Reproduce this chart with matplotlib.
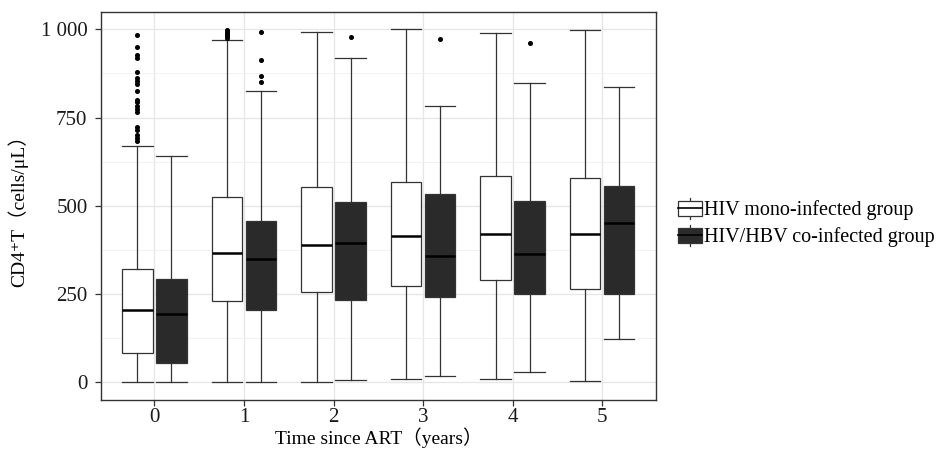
import numpy as np
import matplotlib.pyplot as plt
from matplotlib.patches import Rectangle, Patch
from matplotlib.lines import Line2D
from matplotlib.legend_handler import HandlerBase
from matplotlib.ticker import MultipleLocator

plt.rcParams['font.family'] = ['Liberation Serif', 'DejaVu Serif', 'Noto Sans CJK SC']

years = ['0', '1', '2', '3', '4', '5']
groups = ['HIV mono-infected group', 'HIV/HBV co-infected group']

# mono-infected
mono_lo = [2, 2, 2, 9, 9, 3]
mono_q1 = [84, 230, 255, 273, 290, 265]
mono_med = [206, 367, 390, 416, 421, 421]
mono_q3 = [321, 526, 554, 568, 584, 580]
mono_hi = [670, 969, 993, 1000, 989, 997]
mono_out = [
    [983, 951, 927, 920, 880, 862, 854, 845, 824, 801, 793, 784, 775, 765,
     723, 715, 700, 693, 685],
    [975, 980, 985, 990, 995, 998],
    [], [], [], [],
]

# co-infected
co_lo = [2, 2, 6, 17, 29, 124]
co_q1 = [56, 205, 233, 242, 250, 250]
co_med = [193, 350, 395, 357, 364, 452]
co_q3 = [293, 456, 510, 535, 513, 555]
co_hi = [642, 825, 918, 783, 848, 837]
co_out = [
    [],
    [992, 913, 868, 850],
    [979], [974], [961], [],
]

edge = '#333333'
dark = '#2a2a2a'


def stats(lo, q1, med, q3, hi, out):
    return [dict(whislo=lo[i], q1=q1[i], med=med[i], q3=q3[i], whishi=hi[i],
                 fliers=out[i]) for i in range(len(lo))]


class BoxKey(HandlerBase):
    def create_artists(self, legend, orig_handle, xdescent, ydescent,
                       width, height, fontsize, trans):
        fc = orig_handle.get_facecolor()
        x0, y0 = -xdescent, -ydescent
        cx = x0 + width / 2
        rect = Rectangle((x0, y0 + height * 0.1), width, height * 0.8,
                         facecolor=fc, edgecolor=edge, lw=0.9, transform=trans)
        lw1 = Line2D([cx, cx], [y0 - height * 0.1, y0 + height * 0.1],
                     color=edge, lw=0.9, transform=trans)
        lw2 = Line2D([cx, cx], [y0 + height * 0.9, y0 + height * 1.1],
                     color=edge, lw=0.9, transform=trans)
        med = Line2D([x0, x0 + width], [y0 + height / 2] * 2,
                     color='black', lw=1.2, transform=trans)
        return [lw1, lw2, rect, med]


fig = plt.figure(figsize=(9.39, 4.5), dpi=100)
ax = fig.add_axes([0.1072, 0.111, 0.5914, 0.863])

x = np.arange(len(years))
off = 0.19
bw = 0.34

for st, pos, fc in [(stats(mono_lo, mono_q1, mono_med, mono_q3, mono_hi, mono_out), x - off, 'white'),
                    (stats(co_lo, co_q1, co_med, co_q3, co_hi, co_out), x + off, dark)]:
    ax.bxp(st, positions=pos, widths=bw, capwidths=bw, patch_artist=True,
           showfliers=True, manage_ticks=False,
           boxprops=dict(facecolor=fc, edgecolor=edge, lw=0.9),
           whiskerprops=dict(color=edge, lw=0.9),
           capprops=dict(color=edge, lw=0.9),
           medianprops=dict(color='black', lw=1.8),
           flierprops=dict(marker='o', markersize=2.6, markerfacecolor='black',
                           markeredgecolor='black', linestyle='none'),
           zorder=3)

ax.set_xlim(-0.6, 5.6)
ax.set_ylim(-50, 1050)
ax.set_xticks(x)
ax.set_xticklabels(years)
ax.set_yticks([0, 250, 500, 750, 1000])
ax.set_yticklabels(['0', '250', '500', '750', '1 000'])
ax.yaxis.set_minor_locator(MultipleLocator(125))
ax.grid(True, which='major', color='#e6e6e6', lw=0.9, zorder=0)
ax.grid(True, which='minor', axis='y', color='#f0f0f0', lw=0.6, zorder=0)
ax.set_axisbelow(True)
ax.tick_params(axis='both', which='major', labelsize=15, length=4, width=0.9,
               color=edge, labelcolor='#1a1a1a', pad=2)
ax.tick_params(axis='y', which='major', pad=5.5)
ax.tick_params(axis='y', which='minor', length=0)
for s in ax.spines.values():
    s.set_color(edge)
    s.set_linewidth(1.0)

ax.set_xlabel('Time since ART（years）', fontsize=14, labelpad=0)
ax.set_ylabel('CD4⁺T（cells/μL）', fontsize=14, labelpad=9)

handles = [Patch(facecolor='white'), Patch(facecolor=dark)]
ax.legend(handles, groups, handler_map={Patch: BoxKey()}, loc='center left',
          bbox_to_anchor=(1.025, 0.455), frameon=False, fontsize=14.5,
          handlelength=1.2, handleheight=1.0, handletextpad=0.1,
          labelspacing=0.3, borderaxespad=0)

fig.savefig('out.png', dpi=100)
